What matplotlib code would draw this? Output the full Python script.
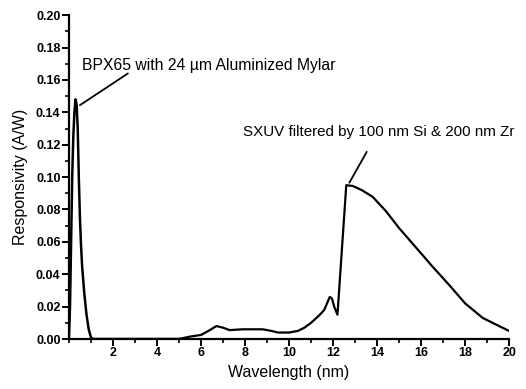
import matplotlib
matplotlib.use("Agg")
import matplotlib.pyplot as plt
from matplotlib.ticker import MultipleLocator

# BPX65 photodiode with 24 um aluminized mylar
bpx_wl = [0.0, 0.05, 0.1, 0.15, 0.2, 0.25, 0.3, 0.35, 0.4, 0.45, 0.5, 0.55,
          0.6, 0.7, 0.8, 0.9, 1.0, 1.1, 3.0, 5.0]
bpx_resp = [0.0, 0.02, 0.06, 0.10, 0.125, 0.14, 0.148, 0.145, 0.13, 0.10,
            0.075, 0.058, 0.045, 0.028, 0.015, 0.006, 0.001, 0.0, 0.0, 0.0]

# SXUV filtered by 100 nm Si & 200 nm Zr
sxuv_wl = [5.0, 5.5, 6.0, 6.4, 6.7, 7.0, 7.3, 7.9, 8.8, 9.2, 9.5, 10.0, 10.4,
           10.7, 11.0, 11.4, 11.6, 11.85, 11.95, 12.05, 12.2, 12.6, 12.9, 13.3,
           13.8, 14.4, 15.0, 15.8, 16.5, 17.3, 18.0, 18.8, 19.6, 20.0]
sxuv_resp = [0.0, 0.0015, 0.0025, 0.0055, 0.008, 0.007, 0.0055, 0.006, 0.006,
             0.005, 0.004, 0.004, 0.005, 0.007, 0.010, 0.015, 0.018, 0.026,
             0.025, 0.020, 0.015, 0.095, 0.0945, 0.092, 0.0878, 0.079, 0.0685,
             0.056, 0.045, 0.033, 0.022, 0.013, 0.0076, 0.005]

plt.rcParams["font.family"] = ["Liberation Sans", "DejaVu Sans"]

fig = plt.figure(figsize=(5.26, 3.89), dpi=100)
ax = fig.add_axes([0.131, 0.1285, 0.837, 0.8325])

ax.plot(bpx_wl, bpx_resp, color="black", lw=1.8)
ax.plot(sxuv_wl, sxuv_resp, color="black", lw=1.6)

ax.set_xlim(0, 20)
ax.set_ylim(0, 0.20)
ax.set_xticks(range(2, 21, 2))
ax.xaxis.set_minor_locator(MultipleLocator(1))
ax.yaxis.set_major_locator(MultipleLocator(0.02))
ax.yaxis.set_minor_locator(MultipleLocator(0.01))
ax.yaxis.set_major_formatter(plt.FormatStrFormatter("%.2f"))

for side in ["top", "right"]:
    ax.spines[side].set_visible(False)
for side in ["left", "bottom"]:
    ax.spines[side].set_linewidth(1.6)
ax.tick_params(which="major", direction="out", length=5, width=1.4,
               labelsize=9, pad=1)
ax.tick_params(which="minor", direction="out", length=3, width=1.2)
for lab in ax.get_xticklabels() + ax.get_yticklabels():
    lab.set_fontweight("bold")

ax.set_xlabel("Wavelength (nm)", fontsize=11.5, labelpad=4)
ax.set_ylabel("Responsivity (A/W)", fontsize=11.5, labelpad=6)

# labels and leader lines
ax.text(0.58, 0.1687, "BPX65 with 24 \u00b5m Aluminized Mylar", fontsize=11.3,
        va="center", ha="left")
ax.annotate("", xy=(0.5, 0.1444), xytext=(2.68, 0.164),
            arrowprops=dict(arrowstyle="-", color="black", lw=1.3,
                            shrinkA=0, shrinkB=0))
ax.text(7.9, 0.128, "SXUV filtered by 100 nm Si & 200 nm Zr", fontsize=10.9,
        va="center", ha="left", clip_on=False)
ax.annotate("", xy=(12.74, 0.0965), xytext=(13.53, 0.1156),
            arrowprops=dict(arrowstyle="-", color="black", lw=1.3,
                            shrinkA=0, shrinkB=0))

fig.savefig("out.png", dpi=100)
